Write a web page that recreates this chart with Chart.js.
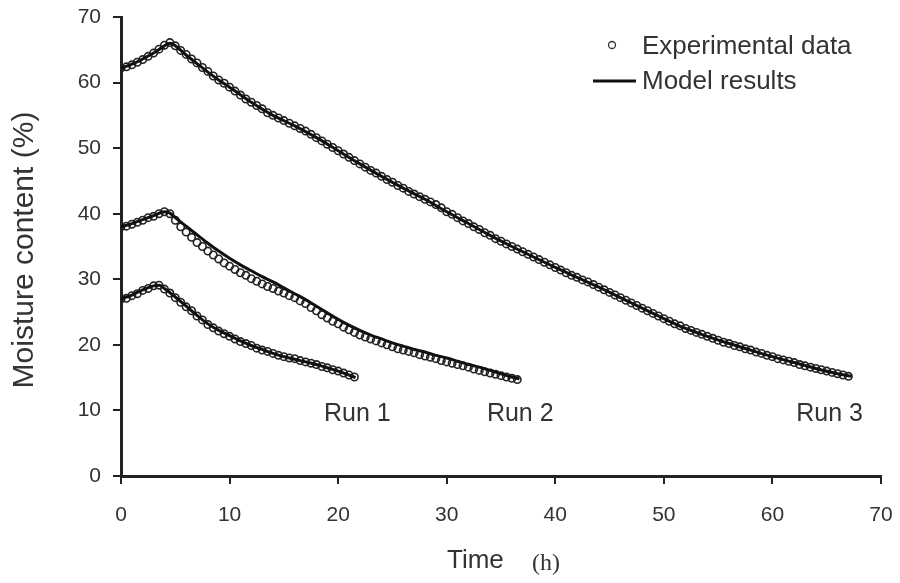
<!DOCTYPE html>
<html>
<head>
<meta charset="utf-8">
<script src="https://cdn.jsdelivr.net/npm/chart.js@4.4.1/dist/chart.umd.min.js"></script>
<style>
  html, body { margin: 0; padding: 0; background: #fff; }
  #wrap { width: 900px; height: 583px; position: relative; }
</style>
</head>
<body>
<div id="wrap"><canvas id="moistureChart"></canvas></div>
<script>
// Axis ticks (h, %)
const xTicks = [0, 10, 20, 30, 40, 50, 60, 70];
const yTicks = [0, 10, 20, 30, 40, 50, 60, 70];

// Experimental readings, one every half hour from t = 0
const EXP_STEP = 0.5;
const expRun1 = [
    27.0, 27.1, 27.5, 27.8, 28.3, 28.6, 29.0, 29.1, 28.5, 27.9,
    27.2, 26.5, 25.8, 25.2, 24.4, 23.8, 23.1, 22.6, 22.1, 21.7,
    21.3, 20.9, 20.5, 20.2, 19.9, 19.5, 19.2, 19.0, 18.7, 18.4,
    18.2, 18.0, 17.9, 17.6, 17.4, 17.2, 17.0, 16.7, 16.5, 16.2,
    16.0, 15.7, 15.4, 15.1
];
const expRun2 = [
    38.0, 38.1, 38.4, 38.7, 39.0, 39.4, 39.6, 40.0, 40.3, 40.0,
    39.0, 38.0, 37.2, 36.4, 35.6, 35.0, 34.3, 33.7, 33.1, 32.5,
    32.0, 31.5, 31.0, 30.6, 30.1, 29.7, 29.3, 28.9, 28.6, 28.2,
    27.9, 27.5, 27.2, 26.7, 26.3, 25.7, 25.2, 24.6, 24.1, 23.6,
    23.2, 22.7, 22.3, 21.9, 21.5, 21.2, 20.9, 20.6, 20.3, 20.0,
    19.7, 19.4, 19.2, 19.0, 18.8, 18.5, 18.3, 18.1, 17.9, 17.6,
    17.4, 17.2, 17.0, 16.8, 16.6, 16.3, 16.1, 15.9, 15.7, 15.5,
    15.3, 15.1, 14.9, 14.7
];
const expRun3 = [
    62.2, 62.4, 62.7, 63.1, 63.5, 64.0, 64.5, 65.1, 65.7, 66.1,
    65.6, 64.9, 64.3, 63.6, 63.0, 62.3, 61.7, 61.0, 60.4, 59.9,
    59.3, 58.7, 58.1, 57.5, 57.0, 56.5, 56.0, 55.4, 55.0, 54.6,
    54.2, 53.8, 53.4, 53.0, 52.6, 52.1, 51.6, 51.1, 50.6, 50.1,
    49.6, 49.1, 48.6, 48.1, 47.6, 47.1, 46.6, 46.2, 45.7, 45.2,
    44.8, 44.3, 43.9, 43.4, 43.0, 42.6, 42.2, 41.8, 41.4, 40.9,
    40.3, 39.9, 39.4, 38.9, 38.5, 38.0, 37.6, 37.1, 36.7, 36.2,
    35.8, 35.4, 35.0, 34.6, 34.2, 33.8, 33.4, 33.0, 32.6, 32.2,
    31.8, 31.4, 31.0, 30.6, 30.3, 29.9, 29.6, 29.2, 28.8, 28.4,
    28.0, 27.6, 27.2, 26.8, 26.4, 26.0, 25.6, 25.2, 24.8, 24.4,
    24.0, 23.6, 23.2, 22.9, 22.5, 22.2, 21.9, 21.6, 21.3, 21.0,
    20.7, 20.4, 20.2, 19.9, 19.7, 19.4, 19.2, 18.9, 18.7, 18.4,
    18.2, 17.9, 17.7, 17.5, 17.3, 17.0, 16.8, 16.6, 16.4, 16.2,
    16.0, 15.8, 15.6, 15.4, 15.2
];

// Model curves
const modelTime1 = [0, 1, 2, 3, 3.5, 4, 5, 6, 7, 8, 9, 10, 11, 12, 13, 14, 15, 16, 17, 18, 19, 20, 21, 21.6];
const modelRun1 = [27.0, 27.6, 28.4, 29.0, 29.1, 28.6, 27.3, 25.9, 24.5, 23.2, 22.2, 21.4, 20.6, 19.9, 19.3, 18.7, 18.2, 17.8, 17.4, 17.0, 16.5, 16.0, 15.4, 15.0];

const modelTime2 = [0, 1, 2, 3, 4, 4.5, 5, 6, 7, 8, 9, 10, 11, 12, 13, 14, 15, 16, 17, 18, 19, 20, 21, 22, 23, 24, 25, 26, 27, 28, 29, 30, 31, 32, 33, 34, 35, 36, 36.7];
const modelRun2 = [38.0, 38.5, 39.1, 39.7, 40.3, 40.1, 39.4, 38.1, 36.8, 35.5, 34.3, 33.2, 32.2, 31.3, 30.4, 29.6, 28.7, 27.8, 26.9, 25.9, 24.9, 23.9, 23.0, 22.2, 21.5, 20.9, 20.3, 19.8, 19.3, 18.9, 18.4, 18.0, 17.5, 17.0, 16.6, 16.1, 15.6, 15.1, 14.8];

const modelTime3 = [0, 1, 2, 3, 4, 4.5, 5, 6, 7, 8, 9, 10, 12, 14, 16, 18, 20, 22, 24, 26, 28, 30, 32, 34, 36, 38, 40, 42, 44, 46, 48, 50, 52, 54, 56, 58, 60, 62, 64, 66, 67.3];
const modelRun3 = [62.2, 62.8, 63.6, 64.5, 65.6, 66.0, 65.6, 64.2, 62.9, 61.6, 60.4, 59.3, 57.0, 55.0, 53.4, 51.6, 49.6, 47.6, 45.7, 43.9, 42.2, 40.3, 38.5, 36.7, 35.0, 33.4, 31.8, 30.3, 28.8, 27.2, 25.6, 24.0, 22.5, 21.3, 20.2, 19.2, 18.2, 17.3, 16.4, 15.6, 15.2];

const runLabels = ['Run 1', 'Run 2', 'Run 3'];
const legendLabels = ['Experimental data', 'Model results'];

const toPoints = (xs, ys) => ys.map((y, i) => ({ x: xs[i], y: y }));
const expPoints = (ys) => ys.map((y, i) => ({ x: i * EXP_STEP, y: y }));

const INK = '#222';
const TEXT = '#333';
const SANS = '"Liberation Sans", Arial, sans-serif';

function expSet(ys) {
    return {
        type: 'scatter',
        data: expPoints(ys),
        showLine: false,
        pointStyle: 'circle',
        pointRadius: 3.7,
        pointBorderWidth: 1.6,
        pointBorderColor: '#222',
        pointBackgroundColor: 'rgba(255,255,255,0)',
        order: 2
    };
}

function modelSet(xs, ys) {
    return {
        type: 'line',
        data: toPoints(xs, ys),
        borderColor: '#111',
        borderWidth: 3,
        pointRadius: 0,
        cubicInterpolationMode: 'monotone',
        fill: false,
        order: 1
    };
}

// Text decorations: axis titles, run labels, legend
const decorPlugin = {
    id: 'decor',
    afterDraw(chart) {
        const ctx = chart.ctx;
        const xs = chart.scales.x, ys = chart.scales.y;
        ctx.save();
        ctx.fillStyle = TEXT;
        ctx.textBaseline = 'alphabetic';
        ctx.textAlign = 'left';

        // run labels (left edge / baseline in data units)
        const runPos = [[18.7, 8.4], [33.7, 8.4], [62.2, 8.4]];
        ctx.font = '25px ' + SANS;
        runLabels.forEach((t, i) => {
            ctx.fillText(t, xs.getPixelForValue(runPos[i][0]), ys.getPixelForValue(runPos[i][1]));
        });

        // x title
        ctx.font = '26px ' + SANS;
        ctx.fillText('Time', 447, 568);
        ctx.font = '24px "Liberation Serif", "Times New Roman", serif';
        ctx.fillText('(h)', 532, 570);

        // y title
        ctx.save();
        ctx.translate(33, 250);
        ctx.rotate(-Math.PI / 2);
        ctx.textAlign = 'center';
        ctx.font = '30px ' + SANS;
        ctx.fillText('Moisture content (%)', 0, 0);
        ctx.restore();

        // legend
        ctx.font = '26px ' + SANS;
        ctx.strokeStyle = '#333';
        ctx.lineWidth = 1.3;
        ctx.beginPath();
        ctx.arc(612, 45, 3.5, 0, Math.PI * 2);
        ctx.stroke();
        ctx.fillText(legendLabels[0], 642, 54);
        ctx.strokeStyle = '#111';
        ctx.lineWidth = 3;
        ctx.beginPath();
        ctx.moveTo(593, 81);
        ctx.lineTo(636, 81);
        ctx.stroke();
        ctx.fillText(legendLabels[1], 642, 89);
        ctx.restore();
    }
};

const chart = new Chart(document.getElementById('moistureChart'), {
    type: 'scatter',
    data: {
        datasets: [
            modelSet(modelTime1, modelRun1),
            modelSet(modelTime2, modelRun2),
            modelSet(modelTime3, modelRun3),
            expSet(expRun1),
            expSet(expRun2),
            expSet(expRun3)
        ]
    },
    options: {
        responsive: true,
        maintainAspectRatio: false,
        animation: false,
        layout: { padding: { top: 17, right: 19, left: 0, bottom: 0 } },
        plugins: {
            legend: { display: false },
            tooltip: { enabled: false }
        },
        scales: {
            x: {
                type: 'linear',
                min: 0,
                max: 70,
                afterBuildTicks: (s) => { s.ticks = xTicks.map(v => ({ value: v })); },
                afterFit: (s) => {
                    s.height = 107;
                    s.paddingLeft = 0;
                    s.paddingRight = 0;
                },
                border: { display: true, color: INK, width: 3 },
                grid: { drawOnChartArea: false, drawTicks: true, tickLength: 8, color: INK, lineWidth: 2 },
                ticks: { color: TEXT, font: { family: SANS, size: 21 }, padding: 19, maxRotation: 0 }
            },
            y: {
                type: 'linear',
                min: 0,
                max: 70,
                afterBuildTicks: (s) => { s.ticks = yTicks.map(v => ({ value: v })); },
                afterFit: (s) => {
                    s.width = 121;
                    s.paddingTop = 0;
                    s.paddingBottom = 0;
                },
                border: { display: true, color: INK, width: 3 },
                grid: { drawOnChartArea: false, drawTicks: true, tickLength: 8, color: INK, lineWidth: 2 },
                ticks: { color: TEXT, font: { family: SANS, size: 21 }, padding: 12 }
            }
        }
    },
    plugins: [decorPlugin]
});
</script>
</body>
</html>
